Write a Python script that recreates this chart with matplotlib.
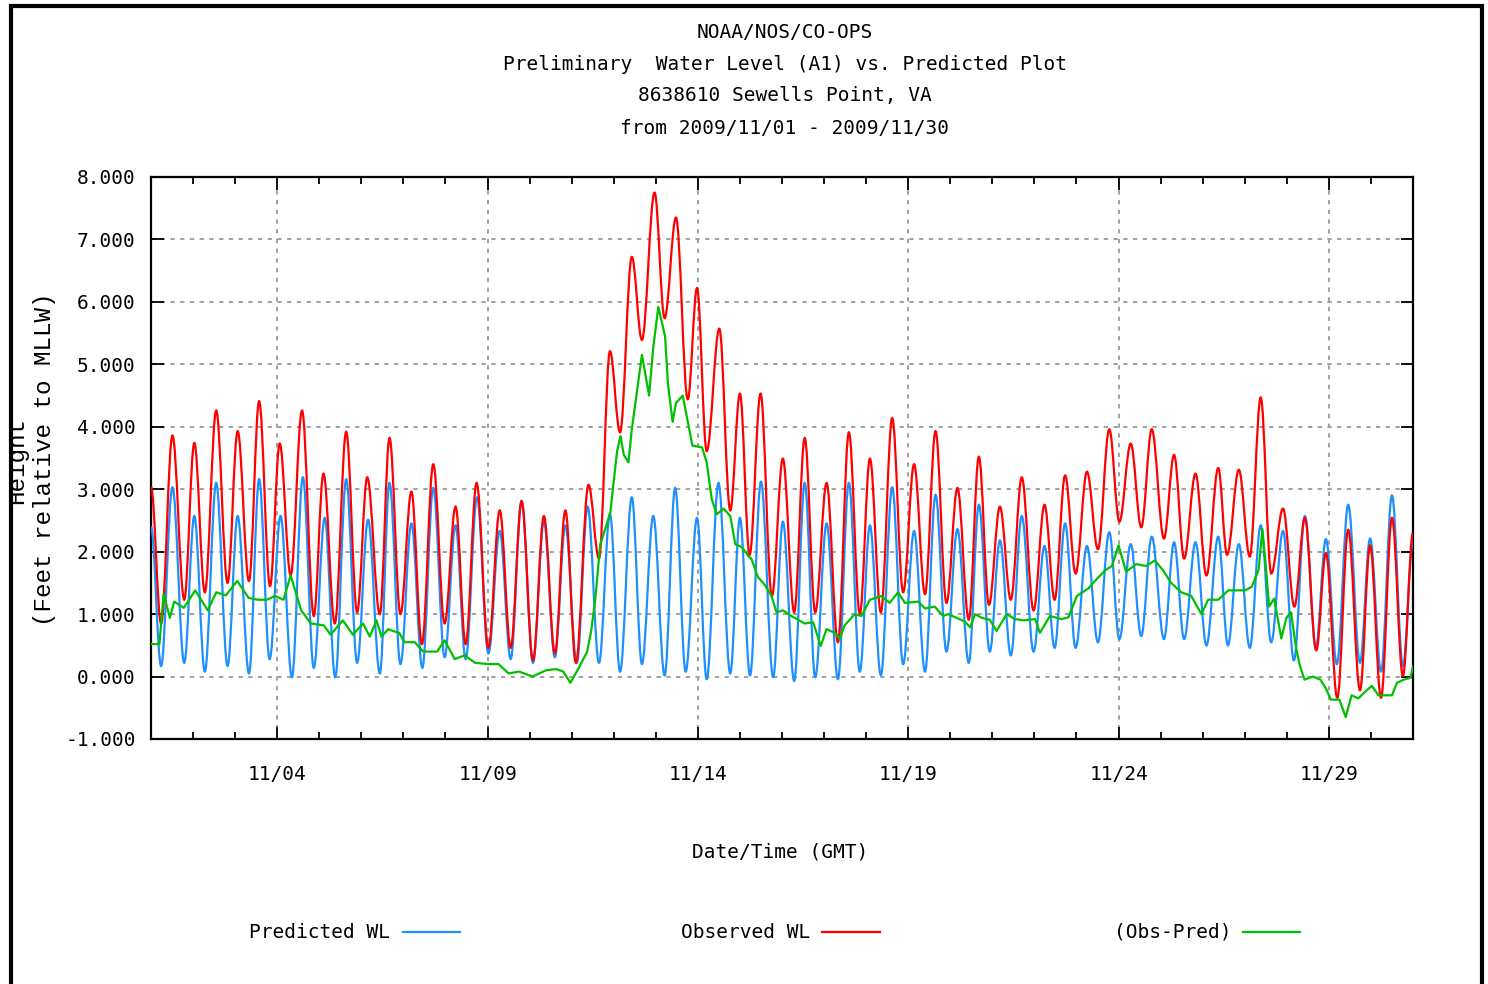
import numpy as np
import matplotlib
matplotlib.use('Agg')
import matplotlib.pyplot as plt
import matplotlib.dates as mdates
from matplotlib.path import Path
from matplotlib.patches import PathPatch, Rectangle
from matplotlib.lines import Line2D
from matplotlib.ticker import FormatStrFormatter
from datetime import datetime

TITLE_LINES = [
    'NOAA/NOS/CO-OPS',
    'Preliminary  Water Level (A1) vs. Predicted Plot',
    '8638610 Sewells Point, VA',
    'from 2009/11/01 - 2009/11/30',
]
START = datetime(2009, 11, 1)
END = datetime(2009, 12, 1)

# predicted tide, turning points (days after 11/01 00:00 GMT, feet MLLW)
pred_days = [0.00, 0.24, 0.51, 0.79, 1.03, 1.28, 1.55, 1.82, 2.06, 2.33,
             2.57, 2.82, 3.08, 3.35, 3.61, 3.87, 4.13, 4.38, 4.64, 4.90,
             5.16, 5.44, 5.67, 5.93, 6.19, 6.45, 6.71, 6.98, 7.24, 7.48,
             7.75, 8.02, 8.29, 8.55, 8.81, 9.08, 9.34, 9.60, 9.85, 10.12,
             10.38, 10.65, 10.91, 11.15, 11.43, 11.67, 11.94, 12.21, 12.46, 12.71,
             12.98, 13.21, 13.49, 13.77, 14.00, 14.24, 14.50, 14.79, 15.02, 15.29,
             15.54, 15.79, 16.06, 16.33, 16.59, 16.85, 17.09, 17.35, 17.62, 17.88,
             18.14, 18.40, 18.65, 18.91, 19.17, 19.44, 19.68, 19.94, 20.18, 20.44,
             20.70, 20.98, 21.24, 21.48, 21.73, 21.98, 22.25, 22.51, 22.78, 23.02,
             23.29, 23.54, 23.79, 24.08, 24.32, 24.56, 24.83, 25.09, 25.37, 25.60,
             25.86, 26.12, 26.38, 26.63, 26.91, 27.17, 27.43, 27.69, 27.93, 28.19,
             28.46, 28.74, 28.98, 29.24, 29.50, 29.76, 30.00]
pred_ft = [2.40, 0.17, 3.03, 0.22, 2.57, 0.08, 3.10, 0.17, 2.57, 0.05,
           3.16, 0.28, 2.57, -0.01, 3.19, 0.14, 2.54, -0.01, 3.16, 0.22,
           2.51, 0.05, 3.10, 0.20, 2.45, 0.14, 3.02, 0.31, 2.42, 0.28,
           2.87, 0.37, 2.33, 0.28, 2.81, 0.22, 2.48, 0.31, 2.42, 0.22,
           2.72, 0.22, 2.60, 0.08, 2.87, 0.20, 2.57, 0.02, 3.02, 0.08,
           2.54, -0.04, 3.10, 0.05, 2.54, 0.02, 3.12, -0.01, 2.48, -0.07,
           3.10, -0.01, 2.45, -0.04, 3.10, 0.08, 2.42, 0.02, 3.03, 0.20,
           2.33, 0.08, 2.91, 0.40, 2.36, 0.22, 2.75, 0.40, 2.18, 0.34,
           2.57, 0.40, 2.09, 0.46, 2.45, 0.46, 2.09, 0.55, 2.31, 0.60,
           2.12, 0.65, 2.24, 0.60, 2.15, 0.60, 2.15, 0.50, 2.24, 0.50,
           2.12, 0.46, 2.42, 0.55, 2.33, 0.26, 2.57, 0.46, 2.20, 0.20,
           2.75, 0.22, 2.21, 0.08, 2.90, 0.17, 2.15]

# observed water level, turning points
obs_days = [0.00, 0.24, 0.51, 0.79, 1.03, 1.28, 1.55, 1.82, 2.06, 2.33,
            2.57, 2.83, 3.06, 3.32, 3.59, 3.87, 4.10, 4.37, 4.64, 4.90,
            5.14, 5.44, 5.67, 5.93, 6.19, 6.44, 6.71, 6.98, 7.24, 7.48,
            7.74, 8.02, 8.29, 8.55, 8.81, 9.08, 9.34, 9.60, 9.85, 10.10,
            10.40, 10.65, 10.91, 11.15, 11.43, 11.67, 11.97, 12.21, 12.48, 12.76,
            12.98, 13.21, 13.51, 13.77, 14.00, 14.23, 14.49, 14.76, 15.02, 15.29,
            15.54, 15.79, 16.06, 16.33, 16.59, 16.85, 17.09, 17.35, 17.62, 17.88,
            18.14, 18.40, 18.65, 18.91, 19.17, 19.44, 19.68, 19.92, 20.18, 20.44,
            20.70, 20.98, 21.24, 21.48, 21.73, 21.98, 22.25, 22.51, 22.78, 23.02,
            23.29, 23.54, 23.79, 24.08, 24.32, 24.56, 24.83, 25.09, 25.37, 25.58,
            25.86, 26.12, 26.38, 26.63, 26.91, 27.18, 27.43, 27.70, 27.93, 28.20,
            28.46, 28.74, 28.98, 29.24, 29.50, 29.76, 30.00]
obs_ft = [3.04, 0.85, 3.86, 1.23, 3.74, 1.35, 4.26, 1.50, 3.93, 1.53,
          4.41, 1.45, 3.73, 1.62, 4.26, 0.97, 3.25, 0.85, 3.92, 1.03,
          3.19, 1.00, 3.82, 1.00, 2.96, 0.52, 3.40, 0.85, 2.72, 0.52,
          3.10, 0.46, 2.66, 0.46, 2.81, 0.26, 2.57, 0.37, 2.66, 0.22,
          3.07, 1.89, 5.21, 3.91, 6.72, 5.39, 7.75, 5.74, 7.35, 4.44,
          6.22, 3.61, 5.57, 2.66, 4.53, 1.95, 4.53, 1.29, 3.49, 1.03,
          3.82, 1.03, 3.10, 0.55, 3.91, 1.00, 3.49, 1.03, 4.14, 1.35,
          3.40, 1.32, 3.93, 1.18, 3.02, 0.91, 3.52, 1.15, 2.72, 1.23,
          3.19, 1.06, 2.75, 1.23, 3.22, 1.65, 3.28, 2.04, 3.96, 2.48,
          3.73, 2.39, 3.96, 2.21, 3.55, 1.89, 3.25, 1.62, 3.34, 1.95,
          3.31, 1.92, 4.47, 1.65, 2.69, 1.12, 2.54, 0.42, 1.98, -0.34,
          2.35, -0.22, 2.10, -0.34, 2.54, 0.01, 2.30]

# observed minus predicted
resid_days = [0.00, 0.20, 0.30, 0.45, 0.55, 0.78, 1.05, 1.35, 1.55, 1.78,
              2.05, 2.32, 2.55, 2.75, 2.95, 3.15, 3.32, 3.57, 3.80, 4.11,
              4.27, 4.56, 4.80, 5.04, 5.20, 5.36, 5.48, 5.64, 5.75, 5.90,
              6.03, 6.27, 6.47, 6.80, 6.98, 7.22, 7.46, 7.70, 8.02, 8.26,
              8.50, 8.75, 9.07, 9.39, 9.63, 9.80, 9.97, 10.17, 10.37, 10.47,
              10.56, 10.68, 10.84, 10.92, 11.00, 11.08, 11.16, 11.24, 11.35, 11.43,
              11.55, 11.67, 11.75, 11.84, 11.94, 12.06, 12.16, 12.22, 12.29, 12.40,
              12.48, 12.64, 12.76, 12.87, 13.10, 13.21, 13.33, 13.45, 13.61, 13.77,
              13.89, 14.05, 14.21, 14.27, 14.43, 14.59, 14.75, 14.87, 15.02, 15.22,
              15.38, 15.54, 15.74, 15.92, 16.06, 16.25, 16.37, 16.49, 16.73, 16.89,
              17.09, 17.36, 17.56, 17.76, 17.92, 18.24, 18.40, 18.63, 18.83, 18.95,
              19.15, 19.35, 19.47, 19.59, 19.75, 19.94, 20.10, 20.34, 20.54, 20.74,
              21.02, 21.13, 21.37, 21.65, 21.81, 22.01, 22.28, 22.52, 22.70, 22.84,
              23.00, 23.18, 23.42, 23.66, 23.86, 24.05, 24.25, 24.49, 24.73, 24.97,
              25.13, 25.37, 25.61, 25.82, 26.01, 26.17, 26.33, 26.42, 26.49, 26.58,
              26.70, 26.87, 26.99, 27.10, 27.22, 27.30, 27.42, 27.62, 27.80, 27.92,
              28.05, 28.25, 28.40, 28.54, 28.70, 28.90, 29.02, 29.18, 29.50, 29.62,
              29.78, 29.94, 30.00]
resid_ft = [0.52, 0.52, 1.32, 0.94, 1.20, 1.10, 1.38, 1.06, 1.35, 1.30,
            1.53, 1.26, 1.23, 1.23, 1.29, 1.23, 1.62, 1.06, 0.85, 0.82,
            0.67, 0.90, 0.67, 0.85, 0.64, 0.90, 0.64, 0.76, 0.73, 0.70,
            0.55, 0.55, 0.40, 0.40, 0.58, 0.28, 0.34, 0.22, 0.20, 0.20,
            0.05, 0.08, 0.00, 0.10, 0.12, 0.08, -0.10, 0.14, 0.40, 0.76,
            1.23, 2.12, 2.45, 2.63, 3.13, 3.61, 3.85, 3.55, 3.43, 3.96,
            4.56, 5.15, 4.85, 4.50, 5.27, 5.92, 5.63, 5.45, 4.68, 4.08,
            4.38, 4.50, 4.08, 3.70, 3.67, 3.43, 2.84, 2.60, 2.69, 2.57,
            2.12, 2.07, 1.92, 1.89, 1.59, 1.47, 1.29, 1.03, 1.06, 0.97,
            0.91, 0.85, 0.87, 0.49, 0.76, 0.70, 0.61, 0.82, 1.00, 0.97,
            1.23, 1.29, 1.18, 1.35, 1.18, 1.20, 1.09, 1.12, 0.97, 1.00,
            0.94, 0.88, 0.79, 1.00, 0.94, 0.91, 0.73, 1.00, 0.92, 0.90,
            0.92, 0.70, 0.97, 0.92, 0.95, 1.29, 1.41, 1.59, 1.71, 1.77,
            2.10, 1.68, 1.80, 1.77, 1.86, 1.71, 1.50, 1.35, 1.29, 1.00,
            1.23, 1.23, 1.38, 1.38, 1.38, 1.44, 1.71, 2.36, 1.85, 1.12,
            1.25, 0.61, 0.94, 1.03, 0.46, 0.20, -0.05, 0.00, -0.05, -0.18,
            -0.37, -0.37, -0.65, -0.30, -0.35, -0.22, -0.15, -0.30, -0.30, -0.10,
            -0.05, -0.02, 0.16]

LEGEND_LABELS = ['Predicted WL', 'Observed WL', '(Obs-Pred)']
COLORS = ['#1e8fff', '#ff0000', '#00c000']

plt.rcParams['font.family'] = ['DejaVu Sans Mono', 'DejaVu Sans']
FS = 14


def tide_path(days, ft):
    # cosine-like cubic segments between successive highs and lows
    x = mdates.date2num(START) + np.asarray(days, float)
    y = np.asarray(ft, float)
    k = 1 - 2 / np.pi
    verts = [(x[0], y[0])]
    codes = [Path.MOVETO]
    for i in range(len(x) - 1):
        dx = x[i + 1] - x[i]
        verts += [(x[i] + k * dx, y[i]), (x[i + 1] - k * dx, y[i + 1]), (x[i + 1], y[i + 1])]
        codes += [Path.CURVE4] * 3
    return Path(verts, codes)


W, H = 1488, 984
fig = plt.figure(figsize=(W / 100, H / 100), dpi=100)
ax = fig.add_axes([151 / W, 1 - 739 / H, 1262 / W, 562 / H])

ax.add_patch(PathPatch(tide_path(pred_days, pred_ft), fill=False,
                       edgecolor=COLORS[0], linewidth=1.6, zorder=3))
ax.add_patch(PathPatch(tide_path(obs_days, obs_ft), fill=False,
                       edgecolor=COLORS[1], linewidth=1.6, zorder=4))
resid_x = mdates.date2num(START) + np.asarray(resid_days)
ax.plot(resid_x, resid_ft, color=COLORS[2], linewidth=1.6, zorder=5)

ax.xaxis_date()
ax.set_xlim(mdates.date2num(START), mdates.date2num(END))
ax.set_ylim(-1, 8)
ax.xaxis.set_major_locator(mdates.DayLocator(bymonthday=[4, 9, 14, 19, 24, 29]))
ax.xaxis.set_minor_locator(mdates.DayLocator())
ax.xaxis.set_major_formatter(mdates.DateFormatter('%m/%d'))
ax.set_yticks(np.arange(-1, 9))
ax.yaxis.set_major_formatter(FormatStrFormatter('%.3f'))

ax.tick_params(which='both', direction='in', top=True, right=True, width=1.3,
               labelsize=FS, colors='black')
ax.tick_params(which='major', length=9)
ax.tick_params(which='minor', length=5)
ax.tick_params(axis='x', which='major', pad=19)
ax.tick_params(axis='y', which='major', pad=11)
ax.grid(True, which='major', color='#a0a0a0', linestyle=(0, (2.2, 2.8)), linewidth=1.4)
for s in ax.spines.values():
    s.set_linewidth(1.6)

for i, line in enumerate(TITLE_LINES):
    fig.text(785 / W, 1 - (32 + 32 * i) / H, line, ha='center', va='center', fontsize=FS)

fig.text(780 / W, 1 - 852 / H, 'Date/Time (GMT)', ha='center', va='center', fontsize=FS)
fig.text(45 / W, 1 - 459 / H, '(Feet relative to MLLW)', rotation=90,
         ha='center', va='center', fontsize=17.5, family='Liberation Mono')
fig.text(17 / W, 1 - 460 / H, 'Height', rotation=90,
         ha='center', va='center', fontsize=17.5, family='Liberation Mono')

# legend: label then a short line sample, spread along the bottom
legend_pos = [(390, 403, 460), (810, 822, 880), (1232, 1243, 1300)]
for label, color, (tx, x0, x1) in zip(LEGEND_LABELS, COLORS, legend_pos):
    yy = 1 - 932 / H
    fig.text(tx / W, yy, label, ha='right', va='center', fontsize=FS)
    fig.add_artist(Line2D([x0 / W, x1 / W], [yy, yy], color=color, linewidth=1.6))

# outer frame; the white strip hides what falls left of it
fig.add_artist(Rectangle((0, 0), 9 / W, 1, transform=fig.transFigure,
                         facecolor='white', edgecolor='none', zorder=10))
fig.add_artist(Rectangle((11 / W, -0.05), (1482 - 11) / W, 1.05 - 6 / H,
                         transform=fig.transFigure, fill=False,
                         edgecolor='black', linewidth=3, zorder=11))

fig.savefig('out.png', dpi=100)
